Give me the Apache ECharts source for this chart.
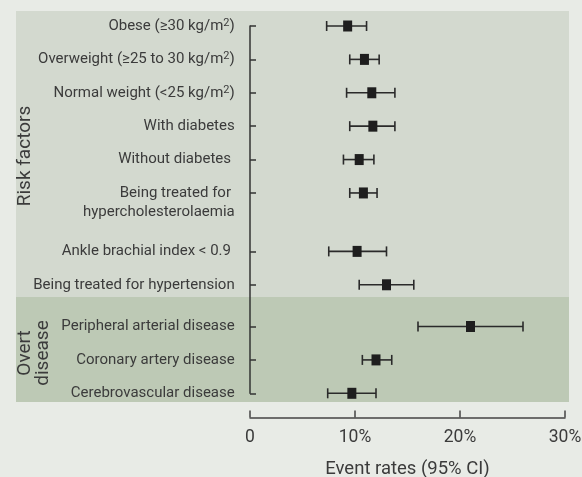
<!DOCTYPE html>
<html>
<head>
<meta charset="utf-8">
<script src="https://cdn.jsdelivr.net/npm/echarts@6/dist/echarts.min.js"></script>
<style>
html,body{margin:0;padding:0;background:#e8ebe6;}
#chart{width:582px;height:477px;}
</style>
</head>
<body>
<div id="chart"></div>
<script>
// ---- data ----
const rowLabels = [
  'Obese (≥30 kg/m²)',
  'Overweight (≥25 to 30 kg/m²)',
  'Normal weight (<25 kg/m²)',
  'With diabetes',
  'Without diabetes ',
  '\nBeing treated for \nhypercholesterolaemia',
  'Ankle brachial index < 0.9 ',
  'Being treated for hypertension',
  'Peripheral arterial disease',
  'Coronary artery disease',
  'Cerebrovascular disease'
];
const estimate = [9.3, 10.9, 11.6, 11.7, 10.4, 10.8, 10.2, 13.0, 21.0, 12.0, 9.7];
const lower    = [7.3, 9.5, 9.2, 9.5, 8.9, 9.5, 7.5, 10.4, 16.0, 10.7, 7.4];
const upper    = [11.1, 12.3, 13.8, 13.8, 11.8, 12.1, 13.0, 15.6, 26.0, 13.5, 12.0];
const xTicks = [0, 10, 20, 30];
const groupNames = ['Risk factors', 'Overt\ndisease'];

// ---- layout of rows on the category axis (spacing units) ----
const rowSteps = [4, 4, 4, 4, 4, 7, 4, 5, 4, 4];
const rowPos = [0];
rowSteps.forEach((s, i) => rowPos.push(rowPos[i] + s));
const nCats = rowPos[rowPos.length - 1] + 1;
const cats = new Array(nCats).fill('');
rowPos.forEach((p, i) => { cats[p] = rowLabels[i]; });
const tickSet = new Set(rowPos);

const seriesData = estimate.map((e, i) => [e, lower[i], upper[i], rowPos[i]]);

const textColor = '#3b3b3b';
const font = 'Roboto';
const chart = echarts.init(document.getElementById('chart'), null, {renderer: 'canvas'});
chart.setOption({
  backgroundColor: '#e8ebe6',
  animation: false,
  textStyle: {fontFamily: font},
  graphic: [
    {type: 'rect', z: -10, shape: {x: 16, y: 11, width: 553, height: 286}, style: {fill: '#d3d9cf'}},
    {type: 'rect', z: -10, shape: {x: 16, y: 297, width: 553, height: 105}, style: {fill: '#bdc9b5'}},
    {type: 'text', z: 5, x: 25, y: 156, rotation: Math.PI / 2,
      style: {text: groupNames[0], font: '19px ' + font, fill: textColor, align: 'center', verticalAlign: 'middle'}},
    {type: 'text', z: 5, x: 34, y: 353, rotation: Math.PI / 2,
      style: {text: groupNames[1], font: '19px ' + font, fill: textColor, align: 'center', verticalAlign: 'middle', lineHeight: 18}}
  ],
  grid: {left: 250, right: 17, top: 26, bottom: 83.7, containLabel: false, outerBoundsMode: 'none'},
  xAxis: {
    type: 'value', min: xTicks[0], max: xTicks[xTicks.length - 1], interval: 10,
    offset: 24.3,
    axisLine: {show: true, lineStyle: {color: '#444', width: 1.5}},
    axisTick: {show: true, inside: true, length: 7, lineStyle: {color: '#444', width: 1.5}},
    axisLabel: {color: textColor, fontSize: 17.5, margin: 11, fontFamily: font,
      formatter: v => v === 0 ? '0' : v + '%'},
    splitLine: {show: false},
    name: 'Event rates (95% CI)', nameLocation: 'middle', nameGap: 42,
    nameTextStyle: {color: textColor, fontSize: 18.5, fontFamily: font}
  },
  yAxis: {
    type: 'category', data: cats, inverse: true, boundaryGap: false,
    offset: 8.3,
    axisLine: {show: true, lineStyle: {color: '#333', width: 1.5}},
    axisTick: {show: true, inside: true, length: 6, lineStyle: {color: '#333', width: 1.5},
      interval: (i) => tickSet.has(i)},
    axisLabel: {interval: 0, color: textColor, fontSize: 15, lineHeight: 19, margin: 7, fontFamily: font,
      formatter: v => v.replace('²', '{sup|2}'),
      rich: {sup: {fontSize: 11, color: textColor, fontFamily: font, padding: [0, 0, 6, 0]}}},
    splitLine: {show: false}
  },
  series: [{
    type: 'custom',
    encode: {x: [0, 1, 2], y: 3},
    data: seriesData,
    renderItem: (params, api) => {
      const row = api.value(3);
      const pE = api.coord([api.value(0), row]);
      const pL = api.coord([api.value(1), row]);
      const pH = api.coord([api.value(2), row]);
      const cap = 5;
      const st = {stroke: '#2a2a2a', lineWidth: 1.6};
      return {type: 'group', children: [
        {type: 'line', shape: {x1: pL[0], y1: pL[1], x2: pH[0], y2: pH[1]}, style: st},
        {type: 'line', shape: {x1: pL[0], y1: pL[1] - cap, x2: pL[0], y2: pL[1] + cap}, style: st},
        {type: 'line', shape: {x1: pH[0], y1: pH[1] - cap, x2: pH[0], y2: pH[1] + cap}, style: st},
        {type: 'rect', shape: {x: pE[0] - 4.5, y: pE[1] - 5.5, width: 9, height: 11}, style: {fill: '#1e1e1e'}}
      ]};
    }
  }]
});
</script>
</body>
</html>
